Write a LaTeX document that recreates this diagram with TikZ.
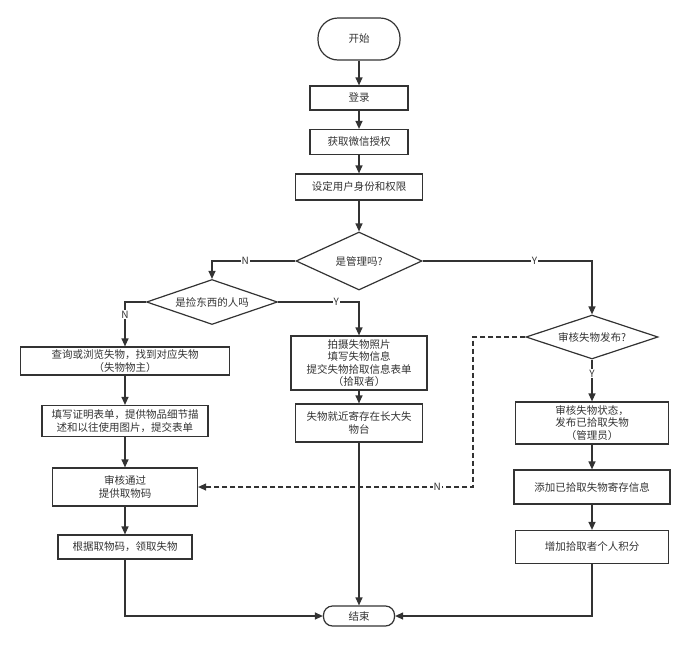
\documentclass[tikz,border=0pt]{standalone}
\usepackage{fontspec}
\setmainfont{Noto Sans CJK SC}
\usepackage{xcolor}
\usetikzlibrary{shapes.geometric,arrows.meta}
\definecolor{flowInk}{HTML}{333333}

\tikzset{
  procbox/.style={draw=flowInk, line width=1.2pt, rectangle, inner sep=0pt, align=center,
    font=\fontsize{10.5}{12.5}\selectfont, text=flowInk},
  decision/.style={procbox, diamond, shape aspect=2.4},
  terminal/.style={procbox, rounded corners=#1},
  flow/.style={draw=flowInk, line width=1.2pt, -{Triangle[length=8pt,width=7pt]}},
  flowlabel/.style={fill=white, inner sep=1pt, font=\fontsize{10}{12}\selectfont, text=flowInk}
}

\begin{document}
\begin{tikzpicture}[x=1pt, y=-1pt]
  \useasboundingbox (0,0) rectangle (691,646);

  % Main column
  \node[terminal=20pt, minimum width=82pt, minimum height=42pt] (start) at (359,39) {开始};
  \node[procbox, minimum width=98pt, minimum height=24pt] (login) at (359,98) {登录};
  \node[procbox, minimum width=98pt, minimum height=25pt] (auth) at (359,142) {获取微信授权};
  \node[procbox, minimum width=127pt, minimum height=26pt] (role) at (359,187) {设定用户身份和权限};
  \node[decision, minimum width=126pt, minimum height=58pt] (isAdmin) at (359,261) {是管理吗?};

  % Left branch
  \node[decision, minimum width=131pt, minimum height=45pt] (isFinder) at (212,302) {是捡东西的人吗};
  \node[procbox, minimum width=209pt, minimum height=28pt] (search) at (125,361) {查询或浏览失物，找到对应失物\\（失物物主）};
  \node[procbox, minimum width=166pt, minimum height=31pt] (proof) at (125,421) {填写证明表单，提供物品细节描\\述和以往使用图片，提交表单};
  \node[procbox, minimum width=145pt, minimum height=38pt] (approve) at (125,487) {审核通过\\提供取物码};
  \node[procbox, minimum width=134pt, minimum height=24pt] (claim) at (125,547) {根据取物码，领取失物};

  % Finder branch
  \node[procbox, minimum width=136pt, minimum height=54pt] (photo) at (359,363) {拍摄失物照片\\填写失物信息\\提交失物拾取信息表单\\（拾取者）};
  \node[procbox, minimum width=127pt, minimum height=38pt] (store) at (359,423) {失物就近寄存在长大失\\物台};

  % Admin branch
  \node[decision, minimum width=132pt, minimum height=44pt] (review) at (592,337) {审核失物发布?};
  \node[procbox, minimum width=153pt, minimum height=42pt] (publish) at (592,423) {审核失物状态，\\发布已拾取失物\\（管理员）};
  \node[procbox, minimum width=156pt, minimum height=34pt] (addInfo) at (592,487) {添加已拾取失物寄存信息};
  \node[procbox, minimum width=153pt, minimum height=33pt] (points) at (592,547) {增加拾取者个人积分};

  % End
  \node[terminal=9pt, minimum width=71pt, minimum height=20pt] (finish) at (359,616) {结束};
  \coordinate (dashTurn) at (473,487);

  % Connectors
  \draw[flow] (start) -- (login);
  \draw[flow] (login) -- (auth);
  \draw[flow] (auth) -- (role);
  \draw[flow] (role) -- (isAdmin);
  \draw[flow] (isAdmin.west) -| node[flowlabel, pos=0.3] {N} (isFinder.north);
  \draw[flow] (isAdmin.east) -| node[flowlabel, pos=0.33] {Y} (review.north);
  \draw[flow] (isFinder.west) -| node[flowlabel, pos=0.64] {N} (search.north);
  \draw[flow] (isFinder.east) -| node[flowlabel, pos=0.36] {Y} (photo.north);
  \draw[flow] (search) -- (proof);
  \draw[flow] (proof) -- (approve);
  \draw[flow] (approve) -- (claim);
  \draw[flow] (photo) -- (store);
  \draw[flow] (review) -- node[flowlabel, pos=0.33] {Y} (publish);
  \draw[flow] (publish) -- (addInfo);
  \draw[flow] (addInfo) -- (points);
  \draw[flow, dash pattern=on 5pt off 3pt] (review.west) -| (dashTurn) -- node[flowlabel, pos=0.13] {N} (approve.east);
  \draw[flow] (claim.south) |- (finish.west);
  \draw[flow] (store.south) -- (finish.north);
  \draw[flow] (points.south) |- (finish.east);
\end{tikzpicture}
\end{document}
